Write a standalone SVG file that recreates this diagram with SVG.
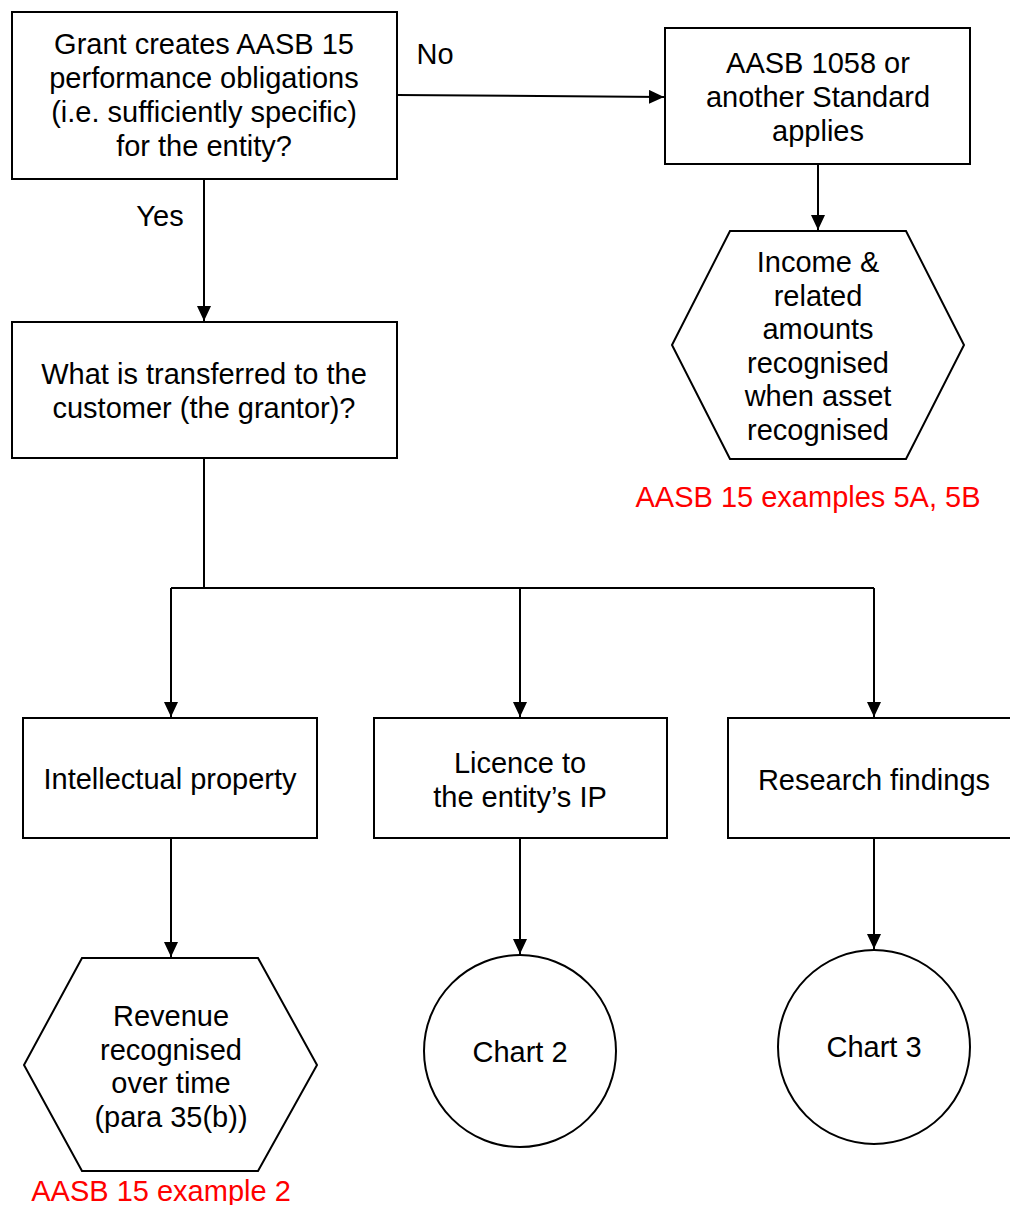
<svg xmlns="http://www.w3.org/2000/svg" width="1010" height="1205" viewBox="0 0 1010 1205">
<style>
.box{fill:#fff;stroke:#000;stroke-width:2}
.t{font-family:"Liberation Sans",Arial,sans-serif;font-size:29px;fill:#000;text-anchor:middle}
.r{font-family:"Liberation Sans",Arial,sans-serif;font-size:29px;fill:#ff0000;text-anchor:middle}
.c{fill:none;stroke:#000;stroke-width:2}
</style>
<defs>
<marker id="arr" markerUnits="userSpaceOnUse" markerWidth="16" markerHeight="14" refX="15" refY="7" orient="auto">
<path d="M0,0 L15,7 L0,14 Z" fill="#000"/>
</marker>
</defs>
<rect width="1010" height="1205" fill="#fff"/>
<g id="connectors">
<line class="c" x1="397" y1="95" x2="664" y2="97" marker-end="url(#arr)"/>
<line class="c" x1="204" y1="179" x2="204" y2="321" marker-end="url(#arr)"/>
<line class="c" x1="818" y1="164" x2="818" y2="230" marker-end="url(#arr)"/>
<polyline class="c" points="204,458 204,588"/>
<line class="c" x1="171" y1="588" x2="874" y2="588"/>
<line class="c" x1="171" y1="588" x2="171" y2="717" marker-end="url(#arr)"/>
<line class="c" x1="520" y1="588" x2="520" y2="717" marker-end="url(#arr)"/>
<line class="c" x1="874" y1="588" x2="874" y2="717" marker-end="url(#arr)"/>
<line class="c" x1="171" y1="838" x2="171" y2="957" marker-end="url(#arr)"/>
<line class="c" x1="520" y1="838" x2="520" y2="954" marker-end="url(#arr)"/>
<line class="c" x1="874" y1="838" x2="874" y2="949" marker-end="url(#arr)"/>
<text class="t" x="435" y="64">No</text>
<text class="t" x="160" y="226">Yes</text>
</g>
<g id="q1">
<rect class="box" x="12" y="12" width="385" height="167"/>
<text class="t" x="204" y="54">Grant creates AASB 15</text>
<text class="t" x="204" y="88">performance obligations</text>
<text class="t" x="204" y="122">(i.e. sufficiently specific)</text>
<text class="t" x="204" y="156">for the entity?</text>
</g>
<g id="other-standard">
<rect class="box" x="665" y="28" width="305" height="136"/>
<text class="t" x="818" y="73">AASB 1058 or</text>
<text class="t" x="818" y="107">another Standard</text>
<text class="t" x="818" y="141">applies</text>
</g>
<g id="income">
<polygon class="box" points="730,231 906,231 964,345 906,459 730,459 672,345"/>
<text class="t" x="818" y="272">Income &amp;</text>
<text class="t" x="818" y="306">related</text>
<text class="t" x="818" y="339">amounts</text>
<text class="t" x="818" y="373">recognised</text>
<text class="t" x="818" y="406">when asset</text>
<text class="t" x="818" y="440">recognised</text>
<text class="r" x="808" y="507">AASB 15 examples 5A, 5B</text>
</g>
<g id="q2">
<rect class="box" x="12" y="322" width="385" height="136"/>
<text class="t" x="204" y="384">What is transferred to the</text>
<text class="t" x="204" y="418">customer (the grantor)?</text>
</g>
<g id="ip">
<rect class="box" x="23" y="718" width="294" height="120"/>
<text class="t" x="170" y="789">Intellectual property</text>
</g>
<g id="licence">
<rect class="box" x="374" y="718" width="293" height="120"/>
<text class="t" x="520" y="773">Licence to</text>
<text class="t" x="520" y="807">the entity’s IP</text>
</g>
<g id="research">
<rect class="box" x="728" y="718" width="294" height="120"/>
<text class="t" x="874" y="790">Research findings</text>
</g>
<g id="revenue">
<polygon class="box" points="82,958 258,958 317,1065 258,1171 82,1171 24,1065"/>
<text class="t" x="171" y="1026">Revenue</text>
<text class="t" x="171" y="1060">recognised</text>
<text class="t" x="171" y="1093">over time</text>
<text class="t" x="171" y="1127">(para 35(b))</text>
<text class="r" x="161" y="1201">AASB 15 example 2</text>
</g>
<g id="chart2">
<ellipse class="box" cx="520" cy="1051" rx="96" ry="96"/>
<text class="t" x="520" y="1062">Chart 2</text>
</g>
<g id="chart3">
<ellipse class="box" cx="874" cy="1047" rx="96" ry="97"/>
<text class="t" x="874" y="1057">Chart 3</text>
</g>
</svg>
